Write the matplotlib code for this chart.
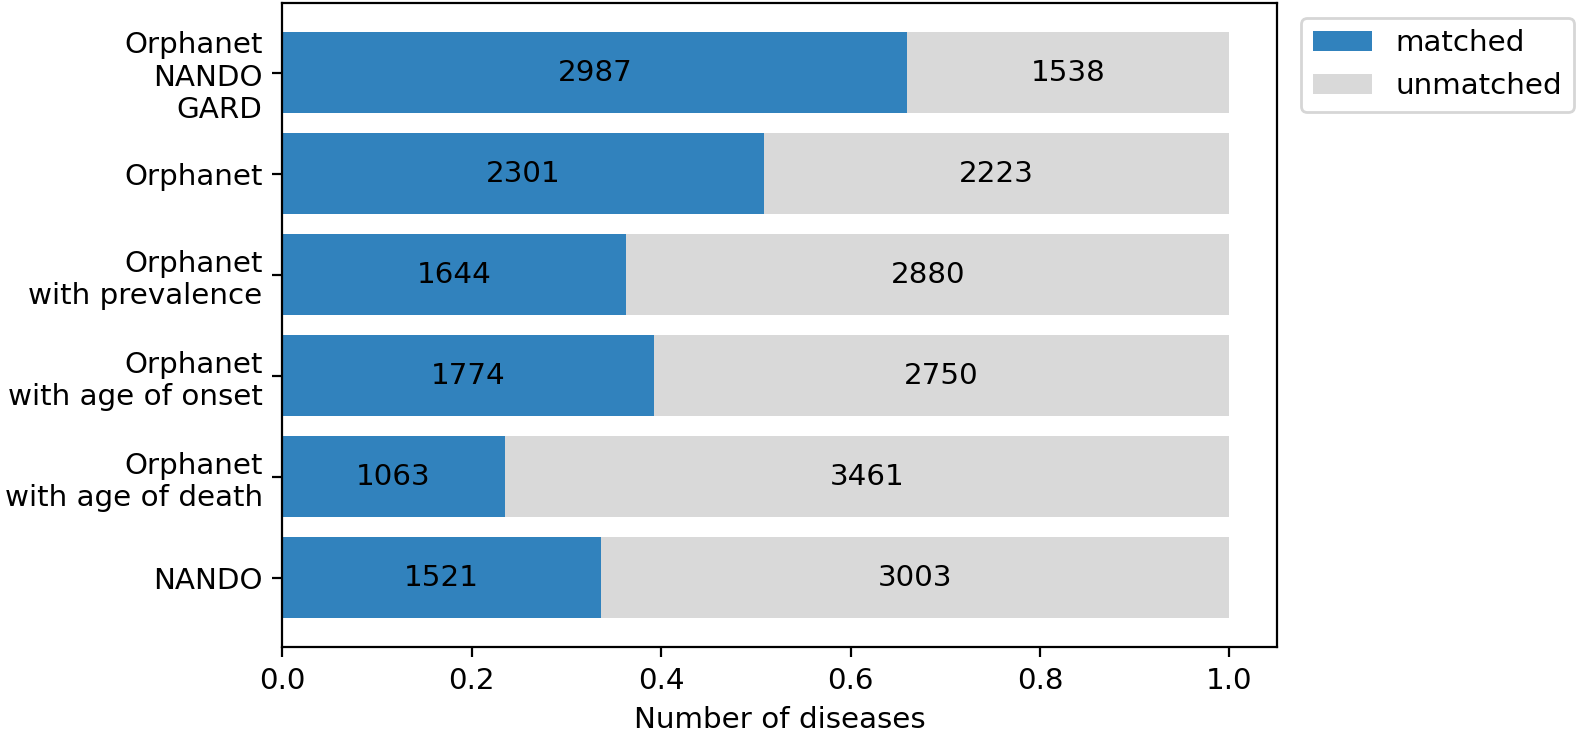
import matplotlib
matplotlib.use("Agg")
import matplotlib.pyplot as plt
import numpy as np

categories = ["Orphanet\nNANDO\nGARD", "Orphanet", "Orphanet\nwith prevalence",
              "Orphanet\nwith age of onset", "Orphanet\nwith age of death", "NANDO"]
matched = [2987, 2301, 1644, 1774, 1063, 1521]
unmatched = [1538, 2223, 2880, 2750, 3461, 3003]

m = np.array(matched, dtype=float)
u = np.array(unmatched, dtype=float)
tot = m + u
mf = m / tot
uf = u / tot

FS = 10.6
fig = plt.figure(figsize=(7.97, 3.72), dpi=200)
ax = fig.add_axes([0.177, 0.130, 0.624, 0.866])
y = np.arange(len(categories))
b1 = ax.barh(y, mf, color="#3182bd", label="matched")
b2 = ax.barh(y, uf, left=mf, color="#d9d9d9", label="unmatched")
ax.bar_label(b1, labels=[str(v) for v in matched], label_type="center", fontsize=FS)
ax.bar_label(b2, labels=[str(v) for v in unmatched], label_type="center", fontsize=FS)
ax.set_yticks(y)
ax.set_yticklabels(categories, fontsize=FS)
ax.invert_yaxis()
ax.set_xlabel("Number of diseases", fontsize=FS)
ax.tick_params(labelsize=FS)
ax.legend(loc="upper left", bbox_to_anchor=(1.01, 1.0), fontsize=FS)
fig.savefig("out.png", dpi=200)
